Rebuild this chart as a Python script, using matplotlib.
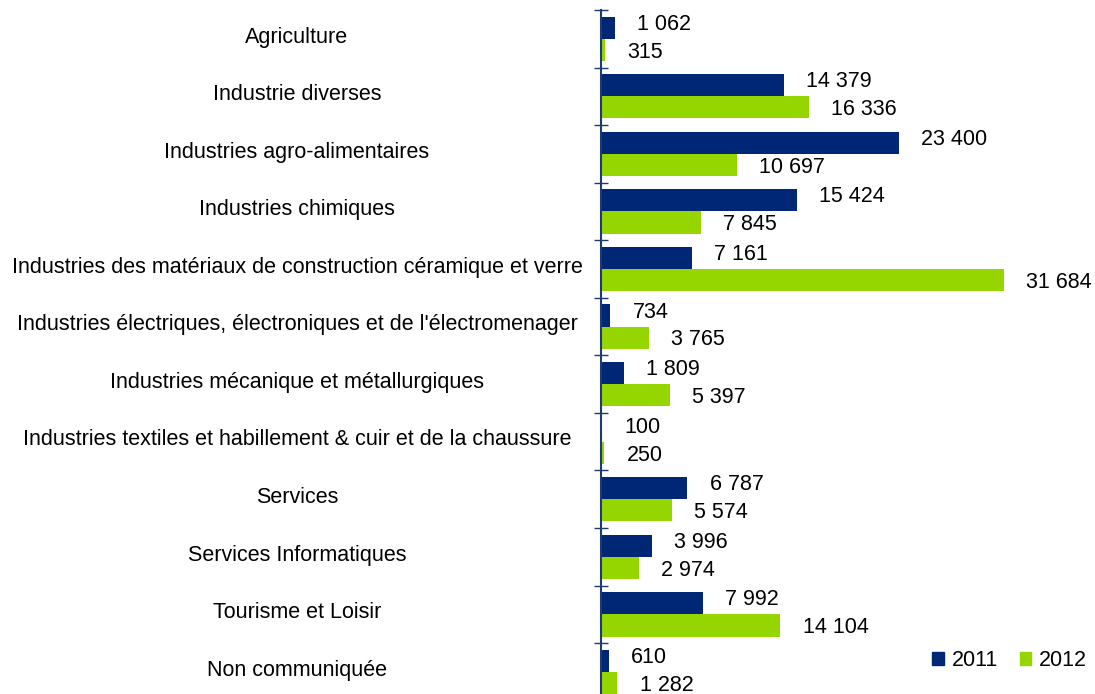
import numpy as np
import matplotlib
matplotlib.use('Agg')
import matplotlib.pyplot as plt
from matplotlib.transforms import blended_transform_factory
from matplotlib.patches import Patch

plt.rcParams['font.family'] = ['Liberation Sans', 'DejaVu Sans']

# données
categories = [
    "Agriculture",
    "Industrie diverses",
    "Industries agro-alimentaires",
    "Industries chimiques",
    "Industries des matériaux de construction céramique et verre",
    "Industries électriques, électroniques et de l'électromenager",
    "Industries mécanique et métallurgiques",
    "Industries textiles et habillement & cuir et de la chaussure",
    "Services",
    "Services Informatiques",
    "Tourisme et Loisir",
    "Non communiquée",
]
vals_2011 = [1062, 14379, 23400, 15424, 7161, 734, 1809, 100, 6787, 3996, 7992, 610]
vals_2012 = [315, 16336, 10697, 7845, 31684, 3765, 5397, 250, 5574, 2974, 14104, 1282]
series_names = ["2011", "2012"]

c2011 = '#002776'
c2012 = '#95D600'
axis_col = '#1F3A6E'
fs = 15.5

fig = plt.figure(figsize=(10.95, 6.94), dpi=100)
ax = fig.add_axes([601 / 1095, -6.7 / 694, 1 - 601 / 1095, 690.7 / 694])

y = np.arange(len(categories))
h = 0.385
ax.barh(y - h / 2, vals_2011, height=h, color=c2011, label=series_names[0])
ax.barh(y + h / 2, vals_2012, height=h, color=c2012, label=series_names[1])

fmt = lambda v: f"{v:,}".replace(",", " ")
off = 1750
for yi, v in zip(y - h / 2, vals_2011):
    ax.text(v + off, yi - 0.06, fmt(v), va='center', ha='left', fontsize=fs)
for yi, v in zip(y + h / 2, vals_2012):
    ax.text(v + off, yi + 0.04, fmt(v), va='center', ha='left', fontsize=fs)

ax.set_xlim(0, 38840)
ax.set_ylim(len(categories) - 0.5, -0.5)

# étiquettes des catégories centrées à gauche
tr = blended_transform_factory(fig.transFigure, ax.transData)
for yi, c in zip(y, categories):
    ax.text(297 / 1095, yi - 0.03, c, transform=tr, ha='center', va='center', fontsize=fs)

ax.set_yticks(np.arange(len(categories) + 1) - 0.5)
ax.set_yticklabels([])
ax.tick_params(axis='y', direction='inout', length=10, width=1.0, color=axis_col)
ax.set_xticks([])
for s in ['top', 'right', 'bottom']:
    ax.spines[s].set_visible(False)
ax.spines['left'].set_color(axis_col)
ax.spines['left'].set_linewidth(1.5)

handles = [Patch(color=c2011), Patch(color=c2012)]
fig.legend(handles, series_names, loc='center right', bbox_to_anchor=(1087 / 1095, 1 - 661 / 694),
           ncol=2, frameon=False, fontsize=fs, handlelength=0.55, handleheight=0.55,
           handletextpad=0.35, columnspacing=1.0, borderaxespad=0, borderpad=0)

fig.savefig('out.png', dpi=100)
